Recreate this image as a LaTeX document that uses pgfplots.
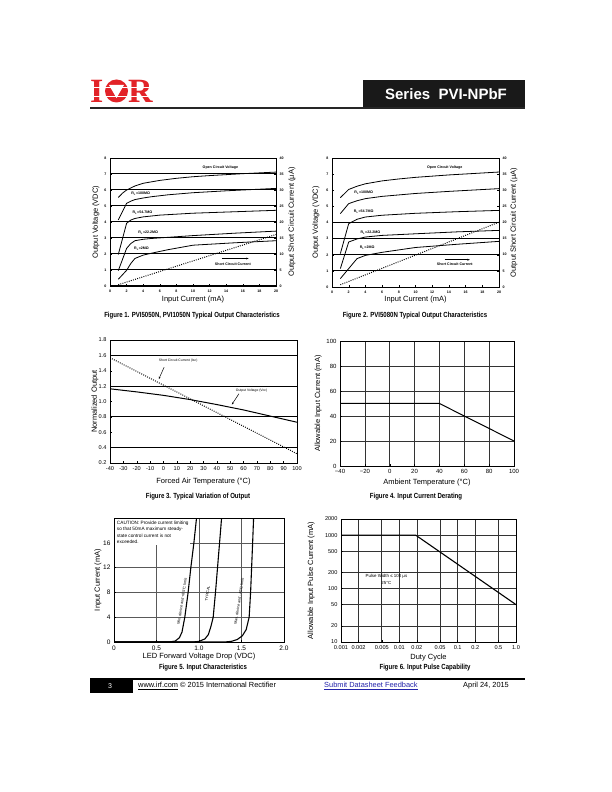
\documentclass[border=0pt]{standalone}
\usepackage{fontspec}
\setmainfont{Liberation Sans}
\newfontfamily\capfont[FakeStretch=0.82]{Liberation Sans}
\newfontfamily\logofont{Liberation Serif}
\usepackage{pgfplots}
\pgfplotsset{compat=1.18}
\usetikzlibrary{arrows.meta}
\definecolor{irred}{RGB}{226,35,40}
\definecolor{linkblue}{RGB}{35,35,170}
\newcommand\tinyb{\fontsize{3.6}{4}\selectfont\bfseries}
\newcommand\lab{\fontsize{7.5}{8}\selectfont}
\newcommand\figcap{\capfont\bfseries\fontsize{7.4}{8}\selectfont}
\pgfplotsset{
  /pgf/number format/assume math mode=true,
  pg/.style={scale only axis, anchor=south west,
    axis line style={line width=0.9pt},
    every tick/.style={black, line width=0.4pt},
    major tick length=2pt, tick align=inside,
    label style={font=\lab}},
  sc/.style={black, line width=1pt, dash pattern=on 0.9pt off 1.3pt},
  cv/.style={black, line width=0.8pt},
}
\begin{document}
\begin{tikzpicture}
\path[use as bounding box, fill=white] (0pt,0pt) rectangle (612pt,792pt);

% ---------- header ----------
\node[anchor=base west, inner sep=0pt, text=irred] at (90pt,689pt) {\logofont\bfseries\fontsize{34}{34}\selectfont I};
\fill[irred] (116.5pt,701pt) circle (11.5pt);
\fill[white] (109pt,707pt) -- (124pt,707pt) -- (116.5pt,694pt) -- cycle;
\node[anchor=base west, inner sep=0pt, text=irred] at (128pt,689pt) {\logofont\bfseries\fontsize{34}{34}\selectfont R};
\draw[white, line width=0.8pt] (89pt,696pt) -- (153pt,696pt);
\draw[white, line width=0.8pt] (89pt,705pt) -- (153pt,705pt);
\fill[black!90] (363pt,684pt) rectangle (525pt,712pt);
\node[text=white, font=\bfseries\fontsize{15}{15}\selectfont] at (446pt,698pt) {Series\ \ PVI-NPbF};
\draw[black!85, line width=1.4pt] (90pt,684pt) -- (525pt,684pt);

% ---------- Figure 1 ----------
\begin{axis}[pg, at={(110pt,506pt)}, width=166pt, height=128pt,
  xmin=0, xmax=20, ymin=0, ymax=8,
  xtick={0,2,...,20}, ytick={0,1,...,8},
  xtick pos=left, ytick pos=left,
  tick label style={font=\tinyb},
  ymajorgrids, major grid style={black, line width=1pt},
  xlabel={Input Current (mA)}, ylabel={Output Voltage (VDC)},
  xlabel style={at={(axis description cs:0.5,-0.109)}, anchor=center},
  ylabel style={at={(axis description cs:-0.084,0.5)}, anchor=center}]
\addplot[cv] coordinates {(1,5.53)(1.5,5.8)(2,6.0)(3,6.25)(4,6.42)(6,6.6)(8,6.73)(10,6.83)(12,6.9)(14,6.96)(16,7.02)(18,7.07)(20,7.12)};
\addplot[cv] coordinates {(1,4.13)(2,5.17)(2.5,5.3)(3,5.4)(4,5.5)(5,5.58)(7,5.7)(10,5.83)(14,5.95)(20,6.1)};
\addplot[cv] coordinates {(1,1.97)(2,3.92)(2.5,4.12)(3,4.22)(4,4.32)(6,4.43)(10,4.55)(15,4.64)(20,4.73)};
\addplot[cv] coordinates {(1,0.96)(2,2.35)(2.5,2.65)(3,2.83)(4,2.92)(5,2.97)(10,3.15)(15,3.3)(20,3.43)};
\addplot[cv] coordinates {(1,0.42)(2,0.98)(2.5,1.4)(3,1.72)(4,1.93)(5,2.05)(7,2.27)(10,2.55)(15,2.7)(20,2.83)};
\node[font=\tinyb] at (axis cs:13.3,7.4) {Open Circuit Voltage};
\node[font=\tinyb] at (axis cs:3.7,5.75) {R\textsubscript{L}=100MΩ};
\node[font=\tinyb] at (axis cs:3.9,4.6) {R\textsubscript{L}=54.7MΩ};
\node[font=\tinyb] at (axis cs:4.6,3.35) {R\textsubscript{L}=22.2MΩ};
\node[font=\tinyb] at (axis cs:3.8,2.35) {R\textsubscript{L}=2MΩ};
\node[font=\tinyb] at (axis cs:14.8,1.38) {Short Circuit Current};
\draw[-{Stealth[length=2.5pt]}, line width=0.5pt] (axis cs:13.5,1.72) -- (axis cs:16.7,1.72);
\end{axis}
\begin{axis}[pg, at={(110pt,506pt)}, width=166pt, height=128pt,
  xmin=0, xmax=20, ymin=0, ymax=40, ytick={0,5,...,40},
  axis x line=none, axis y line*=right,
  tick label style={font=\tinyb},
  ylabel={Output Short Circuit Current (µA)},
  ylabel style={at={(axis description cs:1.096,0.5)}, anchor=center}]
\addplot[sc] coordinates {(1,0.4)(20,16.1)};
\end{axis}
\node[font=\figcap] at (192pt,476pt) {Figure 1. PVI5050N, PVI1050N Typical Output Characteristics};

% ---------- Figure 2 ----------
\begin{axis}[pg, at={(332pt,505pt)}, width=167pt, height=129pt,
  xmin=0, xmax=20, ymin=0, ymax=8,
  xtick={0,2,...,20}, ytick={0,1,...,8},
  xtick pos=left, ytick pos=left,
  tick label style={font=\tinyb},
  major grid style={black, line width=1pt},
  extra y ticks={1,2,3,4}, extra y tick labels={},
  extra y tick style={grid=major},
  xlabel={Input Current (mA)}, ylabel={Output Voltage (VDC)},
  xlabel style={at={(axis description cs:0.5,-0.1)}, anchor=center},
  ylabel style={at={(axis description cs:-0.096,0.5)}, anchor=center}]
\addplot[cv] coordinates {(1,5.54)(2,6.05)(3,6.25)(4,6.4)(6,6.58)(8,6.7)(10,6.8)(14,6.95)(20,7.13)};
\addplot[cv] coordinates {(1,4.55)(2,5.17)(3,5.35)(4,5.48)(6,5.62)(10,5.8)(14,5.93)(20,6.1)};
\addplot[cv] coordinates {(1,2.07)(2,3.93)(3,4.2)(4,4.34)(6,4.45)(10,4.57)(15,4.67)(20,4.75)};
\addplot[cv] coordinates {(1,1.14)(2,2.79)(3,2.98)(4,3.1)(6,3.2)(10,3.3)(15,3.42)(20,3.51)};
\addplot[cv] coordinates {(1,0.52)(2,1.14)(3,1.76)(4,1.96)(6,2.15)(10,2.45)(15,2.65)(20,2.83)};
\node[font=\tinyb] at (axis cs:13.5,7.38) {Open Circuit Voltage};
\node[font=\tinyb] at (axis cs:3.8,5.83) {R\textsubscript{L}=100MΩ};
\node[font=\tinyb] at (axis cs:3.8,4.65) {R\textsubscript{L}=54.7MΩ};
\node[font=\tinyb] at (axis cs:4.6,3.37) {R\textsubscript{L}=22.2MΩ};
\node[font=\tinyb] at (axis cs:4.2,2.46) {R\textsubscript{L}=2MΩ};
\node[font=\tinyb] at (axis cs:14.7,1.4) {Short Circuit Current};
\draw[-{Stealth[length=2.5pt]}, line width=0.5pt] (axis cs:13.5,1.69) -- (axis cs:16.5,1.69);
\end{axis}
\begin{axis}[pg, at={(332pt,505pt)}, width=167pt, height=129pt,
  xmin=0, xmax=20, ymin=0, ymax=40, ytick={0,5,...,40},
  axis x line=none, axis y line*=right,
  tick label style={font=\tinyb},
  ylabel={Output Short Circuit Current (µA)},
  ylabel style={at={(axis description cs:1.09,0.5)}, anchor=center}]
\addplot[sc] coordinates {(1,0.7)(20,20.1)};
\end{axis}
\node[font=\figcap] at (415pt,476pt) {Figure 2. PVI5080N Typical Output Characteristics};

% ---------- Figure 3 ----------
\begin{axis}[pg, at={(110pt,329pt)}, width=187pt, height=123pt,
  xmin=-40, xmax=100, ymin=0.2, ymax=1.8,
  xtick={-40,-30,...,100}, ytick={0.2,0.4,...,1.8},
  yticklabels={0.2,0.4,0.6,0.8,1.0,1.2,1.4,1.6,1.8},
  xtick pos=left, ytick pos=left,
  tick label style={font=\fontsize{5.6}{6}\selectfont},
  major grid style={black, line width=1pt},
  extra y ticks={0.4,0.8,1.2,1.6}, extra y tick labels={},
  extra y tick style={grid=major},
  xlabel={Forced Air Temperature (°C)}, ylabel={Normalized Output},
  xlabel style={at={(axis description cs:0.5,-0.155)}, anchor=center},
  ylabel style={at={(axis description cs:-0.08,0.5)}, anchor=center}]
\addplot[black, line width=1pt] coordinates {(-40,1.165)(-20,1.125)(0,1.08)(20,1.025)(40,0.96)(60,0.89)(80,0.81)(100,0.73)};
\addplot[sc] coordinates {(-40,1.57)(100,0.32)};
\node[font=\fontsize{3.4}{4}\selectfont] at (axis cs:11,1.53) {Short Circuit Current (Isc)};
\draw[-{Stealth[length=2.5pt]}, line width=0.5pt] (axis cs:0.5,1.445) -- (axis cs:-3.5,1.29);
\node[font=\fontsize{3.4}{4}\selectfont] at (axis cs:66,1.14) {Output Voltage (Voc)};
\draw[-{Stealth[length=2.5pt]}, line width=0.5pt] (axis cs:56.5,1.10) -- (axis cs:51.2,0.96);
\end{axis}
\node[font=\figcap] at (198pt,295pt) {Figure 3. Typical Variation of Output};

% ---------- Figure 4 ----------
\begin{axis}[pg, at={(340pt,326pt)}, width=174pt, height=125pt,
  xmin=-40, xmax=100, ymin=0, ymax=100,
  xtick={-40,-20,...,100}, ytick={0,20,...,100},
  xticklabels={−40,−20,0,20,40,60,80,100},
  xtick pos=left, ytick pos=left,
  tick label style={font=\fontsize{6}{7}\selectfont},
  grid=major, major grid style={black!80, line width=0.6pt},
  xlabel={Ambient Temperature (°C)}, ylabel={Allowable Input Current (mA)},
  xlabel style={at={(axis description cs:0.5,-0.13)}, anchor=center},
  ylabel style={at={(axis description cs:-0.126,0.5)}, anchor=center}]
\addplot[black, line width=1pt] coordinates {(-40,50)(40,50)(100,20)};
\end{axis}
\node[font=\figcap] at (416pt,295pt) {Figure 4. Input Current Derating};

% ---------- Figure 5 ----------
\begin{axis}[pg, at={(114pt,150pt)}, width=170pt, height=124pt,
  xmin=0, xmax=2, ymin=0, ymax=20,
  xtick={0,0.5,1,1.5,2}, xticklabels={0,0.5,1.0,1.5,2.0},
  ytick={0,4,8,12,16},
  xtick pos=left, ytick pos=left,
  tick label style={font=\fontsize{6.5}{7}\selectfont},
  grid=major, major grid style={black!65, line width=0.5pt},
  xlabel={LED Forward Voltage Drop (VDC)}, ylabel={Input Current (mA)},
  xlabel style={at={(axis description cs:0.5,-0.12)}, anchor=center},
  ylabel style={at={(axis description cs:-0.094,0.5)}, anchor=center}]
\addplot[black, line width=1.1pt] coordinates {(0,0)(0.65,0)(0.72,0.15)(0.77,0.7)(0.80,1.6)(0.833,4)(0.872,8)(0.904,12)(0.94,16)(0.97,19.9)};
\addplot[black, line width=1.1pt] coordinates {(0,0)(0.93,0)(1.0,0.1)(1.07,0.5)(1.11,1.2)(1.14,2.5)(1.167,4)(1.194,8)(1.218,12)(1.242,16)(1.265,19.9)};
\addplot[black, line width=1.1pt] coordinates {(0,0)(1.30,0)(1.38,0.1)(1.45,0.4)(1.51,1.0)(1.555,2.0)(1.59,4)(1.607,8)(1.619,12)(1.631,16)(1.642,19.9)};
\node[font=\fontsize{3.8}{4}\selectfont, rotate=81] at (axis cs:0.80,6.5) {Min. device and +85°C limit};
\node[font=\fontsize{3.8}{4}\selectfont, rotate=81] at (axis cs:1.10,7.8) {TYPICAL};
\node[font=\fontsize{3.8}{4}\selectfont, rotate=81] at (axis cs:1.47,6.5) {Max. device and -40°C limit};
\node[fill=white, anchor=north west, inner sep=1.5pt, align=left,
  font=\fontsize{4.7}{6.6}\selectfont] at (axis cs:0.015,19.85)
  {CAUTION: Provide current limiting\\so that 50mA maximum steady-\\state control current is not\\exceeded.};
\end{axis}
\node[font=\figcap] at (203pt,124pt) {Figure 5. Input Characteristics};

% ---------- Figure 6 ----------
\begin{axis}[pg, at={(341pt,150pt)}, width=175pt, height=123pt,
  xmode=log, ymode=log,
  xmin=0.001, xmax=1, ymin=10, ymax=2000,
  xtick={0.001,0.002,0.005,0.01,0.02,0.05,0.1,0.2,0.5,1},
  xticklabels={0.001,0.002,0.005,0.01,0.02,0.05,0.1,0.2,0.5,1.0},
  ytick={10,20,50,100,200,500,1000,2000},
  yticklabels={10,20,50,100,200,500,1000,2000},
  xminorticks=false, yminorticks=false,
  xtick pos=left, ytick pos=left,
  tick label style={font=\fontsize{5.6}{6}\selectfont},
  grid=major, major grid style={black!80, line width=0.6pt},
  xlabel={Duty Cycle}, ylabel={Allowable Input Pulse Current (mA)},
  xlabel style={at={(axis description cs:0.5,-0.13)}, anchor=center},
  ylabel style={at={(axis description cs:-0.171,0.5)}, anchor=center}]
\addplot[black, line width=1.1pt] coordinates {(0.001,1000)(0.019,1000)(1,50)};
\node[font=\fontsize{4.4}{5}\selectfont] at (axis cs:0.006,166) {Pulse Width ≤ 100 µs};
\node[font=\fontsize{4.4}{5}\selectfont] at (axis cs:0.006,128) {25°C};
\end{axis}
\node[font=\figcap] at (425pt,124pt) {Figure 6. Input Pulse Capability};

% ---------- footer ----------
\draw[black, line width=1.4pt] (90pt,113pt) -- (525pt,113pt);
\fill[black] (90pt,99pt) rectangle (133pt,113pt);
\node[text=white, font=\fontsize{7}{8}\selectfont] at (110pt,106pt) {3};
\node[anchor=west, inner sep=0pt, font=\fontsize{7.4}{8}\selectfont] at (138pt,106pt) {\underline{www.irf.com} © 2015 International Rectifier};
\node[anchor=west, inner sep=0pt, text=linkblue, font=\fontsize{7.4}{8}\selectfont] at (324pt,106pt) {\underline{Submit Datasheet Feedback}};
\node[anchor=west, inner sep=0pt, font=\fontsize{7.4}{8}\selectfont] at (463pt,106pt) {April 24, 2015};
\end{tikzpicture}
\end{document}
